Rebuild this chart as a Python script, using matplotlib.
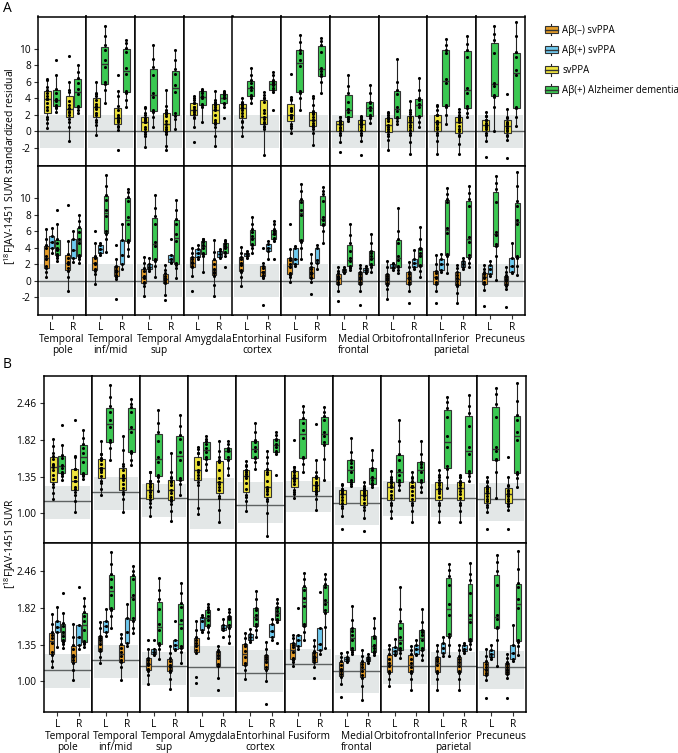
import numpy as np
import matplotlib
matplotlib.use('Agg')
import matplotlib.pyplot as plt
from matplotlib import cbook
from matplotlib.patches import Rectangle, Patch
from matplotlib.lines import Line2D
from matplotlib.legend_handler import HandlerBase

plt.rcParams['font.family'] = ['Open Sans', 'DejaVu Sans']
plt.rcParams['axes.unicode_minus'] = False
plt.rcParams['mathtext.fontset'] = 'custom'
plt.rcParams['mathtext.rm'] = 'Open Sans'

regions = ['Temporal\npole', 'Temporal\ninf/mid', 'Temporal\nsup', 'Amygdala',
           'Entorhinal\ncortex', 'Fusiform', 'Medial\nfrontal', 'Orbitofrontal',
           'Inferior\nparietal', 'Precuneus']
hemis = ['L', 'R']
legend_labels = ['Aβ(–) svPPA', 'Aβ(+) svPPA', 'svPPA', 'Aβ(+) Alzheimer dementia']

# ---- A: standardized residuals (one list per region) ----
resid_neg_L = [
    [0.4, 1.0, 1.5, 1.8, 2.6, 3.0, 3.9, 4.3, 5.0, 6.2],
    [-0.4, 0.8, 1.2, 1.4, 2.0, 2.2, 2.7, 3.0, 4.5, 6.0],
    [-1.9, -0.6, -0.3, -0.1, 0.3, 0.6, 1.2, 1.5, 2.2, 2.9],
    [-1.3, 0.6, 1.6, 1.8, 2.1, 2.3, 2.6, 2.9, 3.4, 4.0],
    [-0.6, 0.5, 1.1, 1.3, 1.9, 2.2, 2.6, 2.9, 3.4, 4.1],
    [-0.2, 0.4, 0.7, 0.9, 1.6, 2.0, 2.5, 2.8, 3.8, 6.9],
    [-2.5, -1.3, -0.4, -0.2, 0.2, 0.4, 0.6, 0.9, 1.2, 1.7],
    [-2.2, -1.0, -0.5, -0.3, 0.1, 0.3, 0.6, 0.8, 1.6, 2.4],
    [-2.7, -1.2, -0.4, -0.2, 0.3, 0.5, 0.9, 1.2, 2.0, 3.1],
    [-3.1, -1.1, -0.4, -0.2, 0.3, 0.5, 0.8, 1.0, 1.4, 1.9],
]
resid_neg_R = [
    [-1.2, 0.5, 1.2, 1.5, 2.0, 2.3, 2.7, 3.2, 4.8, 9.1],
    [-2.2, 0.2, 0.5, 0.7, 1.1, 1.3, 1.6, 1.8, 2.6, 4.3],
    [-2.3, -1.7, -0.3, -0.1, 0.1, 0.3, 0.6, 0.9, 1.3, 1.9],
    [-1.8, -0.5, 0.6, 0.9, 1.1, 1.4, 2.0, 2.6, 3.5, 4.9],
    [-2.9, 0.3, 0.5, 0.7, 1.0, 1.1, 1.5, 1.8, 2.2, 4.0],
    [-1.6, -0.2, 0.3, 0.5, 0.8, 1.0, 1.4, 1.7, 2.2, 3.2],
    [-2.9, -1.2, -0.4, -0.2, 0.2, 0.5, 0.8, 1.1, 1.5, 1.9],
    [-2.7, -1.3, -0.4, -0.2, 0.2, 0.5, 0.8, 1.1, 1.7, 2.3],
    [-2.7, -1.5, -0.6, -0.4, 0.0, 0.3, 0.7, 1.1, 1.5, 1.9],
    [-3.2, -1.0, -0.6, -0.4, 0.0, 0.2, 0.4, 0.7, 1.1, 1.6],
]
resid_pos_L = [
    [3.4, 3.9, 4.7, 5.4, 6.4], [3.1, 3.3, 3.8, 4.3, 4.6], [1.2, 1.4, 1.6, 2.0, 2.8],
    [2.6, 2.9, 3.4, 3.8, 4.3], [2.8, 3.0, 3.2, 3.4, 3.6], [1.8, 2.0, 2.6, 3.9, 4.2],
    [0.9, 1.1, 1.3, 1.4, 1.7], [1.3, 1.5, 1.7, 2.0, 2.2], [1.1, 1.3, 2.0, 2.6, 3.2],
    [0.6, 0.8, 1.4, 1.9, 2.4],
]
resid_pos_R = [
    [2.3, 2.8, 3.7, 5.0, 6.0], [1.4, 2.0, 3.1, 4.9, 6.8], [2.1, 2.3, 2.6, 3.1, 5.0],
    [2.7, 2.9, 3.2, 3.6, 3.8], [2.6, 3.6, 4.0, 4.4, 4.8], [1.4, 2.1, 2.5, 4.0, 4.3],
    [0.9, 1.0, 1.3, 1.5, 1.8], [1.4, 1.6, 2.1, 2.6, 3.7], [1.4, 1.6, 2.0, 2.4, 2.7],
    [0.9, 1.0, 1.8, 2.7, 4.5],
]
resid_ad_L = [
    [2.4, 2.8, 3.0, 3.2, 3.7, 3.9, 4.6, 5.1, 6.8, 8.6],
    [3.5, 5.0, 5.7, 6.0, 7.8, 8.6, 9.8, 10.4, 11.5, 12.8],
    [0.5, 1.8, 2.4, 2.6, 4.2, 4.7, 6.8, 7.8, 8.8, 10.4],
    [1.1, 3.0, 3.2, 3.3, 4.0, 4.3, 4.7, 4.9, 5.0, 5.1],
    [3.4, 4.0, 4.3, 4.4, 5.0, 5.4, 5.9, 6.2, 6.8, 7.7],
    [2.6, 4.0, 4.7, 4.9, 7.9, 8.6, 9.5, 9.9, 10.8, 11.7],
    [1.3, 1.5, 1.7, 1.8, 2.4, 2.7, 3.6, 4.6, 5.5, 6.8],
    [0.9, 1.3, 1.6, 1.8, 2.5, 3.0, 4.5, 5.0, 6.0, 8.8],
    [0.9, 2.0, 3.0, 3.2, 5.8, 6.4, 9.5, 9.9, 10.5, 11.2],
    [0.1, 3.0, 4.2, 4.4, 5.5, 5.9, 9.5, 11.1, 11.8, 12.7],
]
resid_ad_R = [
    [2.2, 2.6, 2.9, 3.1, 4.5, 5.1, 5.9, 6.5, 7.2, 8.0],
    [3.0, 3.8, 4.7, 4.9, 6.9, 7.7, 9.6, 10.1, 10.7, 11.1],
    [0.3, 1.5, 1.9, 2.2, 4.8, 5.6, 6.9, 7.5, 8.6, 9.8],
    [1.6, 3.0, 3.35, 3.5, 4.0, 4.2, 4.4, 4.6, 4.8, 4.9],
    [2.6, 4.8, 5.0, 5.2, 5.6, 5.8, 6.0, 6.2, 6.8, 7.2],
    [4.6, 6.0, 6.7, 6.9, 7.3, 7.7, 9.6, 10.5, 10.9, 11.3],
    [1.0, 1.6, 1.9, 2.0, 2.6, 3.0, 3.4, 3.6, 4.6, 5.6],
    [0.5, 1.2, 1.8, 1.9, 3.0, 3.3, 3.8, 4.0, 5.0, 6.5],
    [1.7, 2.2, 2.8, 3.1, 4.7, 5.3, 9.0, 9.9, 10.6, 11.5],
    [0.7, 1.8, 2.8, 3.0, 6.8, 7.4, 9.0, 9.6, 11.5, 13.2],
]

# ---- B: SUVR ----
suvr_neg_L = [
    [1.12, 1.18, 1.24, 1.27, 1.37, 1.42, 1.46, 1.49, 1.60, 1.73],
    [1.16, 1.22, 1.28, 1.30, 1.36, 1.40, 1.42, 1.45, 1.54, 1.62],
    [0.98, 1.05, 1.09, 1.11, 1.14, 1.16, 1.19, 1.21, 1.30, 1.40],
    [0.99, 1.04, 1.26, 1.29, 1.33, 1.37, 1.40, 1.43, 1.52, 1.64],
    [1.02, 1.10, 1.14, 1.16, 1.22, 1.28, 1.33, 1.36, 1.42, 1.48],
    [1.13, 1.17, 1.19, 1.21, 1.27, 1.32, 1.34, 1.37, 1.42, 1.46],
    [0.88, 0.98, 1.04, 1.06, 1.09, 1.11, 1.14, 1.18, 1.22, 1.26],
    [0.96, 1.02, 1.07, 1.09, 1.13, 1.16, 1.20, 1.25, 1.30, 1.35],
    [0.93, 1.02, 1.07, 1.09, 1.14, 1.18, 1.20, 1.22, 1.28, 1.34],
    [0.875, 1.01, 1.05, 1.07, 1.10, 1.12, 1.15, 1.18, 1.23, 1.30],
]
suvr_neg_R = [
    [1.01, 1.10, 1.16, 1.19, 1.22, 1.24, 1.30, 1.35, 1.44, 1.60],
    [1.01, 1.12, 1.17, 1.19, 1.23, 1.27, 1.31, 1.36, 1.42, 1.47],
    [0.94, 1.02, 1.08, 1.10, 1.12, 1.14, 1.18, 1.21, 1.26, 1.33],
    [0.93, 1.03, 1.13, 1.15, 1.21, 1.24, 1.27, 1.29, 1.33, 1.80],
    [0.83, 1.00, 1.10, 1.12, 1.17, 1.20, 1.22, 1.24, 1.30, 1.38],
    [1.03, 1.12, 1.17, 1.19, 1.21, 1.23, 1.26, 1.28, 1.33, 1.40],
    [0.86, 0.96, 1.03, 1.05, 1.09, 1.12, 1.15, 1.18, 1.23, 1.29],
    [0.93, 1.02, 1.07, 1.09, 1.12, 1.16, 1.20, 1.25, 1.29, 1.33],
    [0.93, 1.02, 1.07, 1.09, 1.13, 1.17, 1.20, 1.23, 1.29, 1.34],
    [0.875, 1.03, 1.06, 1.08, 1.10, 1.12, 1.15, 1.17, 1.21, 1.25],
]
suvr_pos_L = [
    [1.32, 1.50, 1.56, 1.64, 1.84], [1.45, 1.50, 1.57, 1.63, 1.80], [1.24, 1.25, 1.27, 1.30, 1.40],
    [1.50, 1.52, 1.64, 1.69, 1.72], [1.38, 1.40, 1.43, 1.47, 1.53], [1.30, 1.33, 1.40, 1.46, 1.82],
    [1.17, 1.18, 1.20, 1.22, 1.27], [1.24, 1.25, 1.28, 1.32, 1.41], [1.23, 1.26, 1.31, 1.37, 1.43],
    [1.20, 1.22, 1.25, 1.29, 1.34],
]
suvr_pos_R = [
    [1.30, 1.34, 1.44, 1.58, 2.15], [1.33, 1.37, 1.50, 1.68, 1.88], [1.29, 1.30, 1.34, 1.40, 1.64],
    [1.43, 1.52, 1.55, 1.58, 1.66], [1.40, 1.44, 1.51, 1.59, 1.66], [1.25, 1.29, 1.36, 1.54, 2.08],
    [1.16, 1.18, 1.20, 1.22, 1.25], [1.24, 1.25, 1.30, 1.35, 1.40], [1.26, 1.28, 1.30, 1.34, 1.37],
    [1.18, 1.20, 1.26, 1.34, 1.58],
]
suvr_ad_L = [
    [1.31, 1.36, 1.38, 1.40, 1.45, 1.49, 1.57, 1.61, 1.75, 2.06],
    [1.54, 1.70, 1.79, 1.82, 2.02, 2.15, 2.30, 2.40, 2.60, 2.86],
    [1.20, 1.30, 1.35, 1.37, 1.52, 1.59, 1.80, 1.95, 2.10, 2.33],
    [1.42, 1.50, 1.56, 1.58, 1.65, 1.70, 1.76, 1.80, 1.84, 1.88],
    [1.44, 1.52, 1.57, 1.59, 1.66, 1.72, 1.79, 1.82, 1.95, 2.09],
    [1.40, 1.50, 1.57, 1.59, 1.85, 1.97, 2.10, 2.18, 2.30, 2.41],
    [1.25, 1.27, 1.29, 1.31, 1.40, 1.46, 1.51, 1.55, 1.65, 1.85],
    [1.21, 1.26, 1.29, 1.31, 1.37, 1.43, 1.55, 1.63, 1.80, 2.15],
    [1.23, 1.35, 1.44, 1.47, 1.72, 1.88, 2.20, 2.37, 2.48, 2.60],
    [1.13, 1.40, 1.54, 1.56, 1.66, 1.72, 2.20, 2.45, 2.65, 2.80],
]
suvr_ad_R = [
    [1.32, 1.36, 1.37, 1.39, 1.52, 1.64, 1.70, 1.76, 1.85, 1.97],
    [1.48, 1.55, 1.64, 1.67, 1.95, 2.03, 2.30, 2.38, 2.45, 2.56],
    [1.16, 1.27, 1.31, 1.33, 1.55, 1.65, 1.83, 1.90, 2.05, 2.23],
    [1.37, 1.45, 1.55, 1.58, 1.66, 1.68, 1.69, 1.71, 1.76, 1.81],
    [1.37, 1.62, 1.65, 1.66, 1.72, 1.77, 1.82, 1.84, 1.90, 1.95],
    [1.31, 1.56, 1.75, 1.79, 1.88, 1.94, 2.15, 2.21, 2.30, 2.39],
    [1.24, 1.26, 1.27, 1.28, 1.31, 1.35, 1.42, 1.45, 1.55, 1.68],
    [1.19, 1.24, 1.29, 1.31, 1.40, 1.46, 1.50, 1.52, 1.62, 1.81],
    [1.30, 1.36, 1.39, 1.41, 1.62, 1.72, 2.05, 2.28, 2.40, 2.63],
    [1.24, 1.33, 1.38, 1.40, 1.82, 1.95, 2.15, 2.23, 2.50, 2.90],
]
# controls: mean line and shaded range per region
ctrl_mean = [1.10, 1.19, 1.13, 1.12, 1.07, 1.15, 1.09, 1.13, 1.13, 1.12]
ctrl_lo = [0.95, 1.03, 0.97, 0.88, 0.92, 1.01, 0.91, 0.98, 0.97, 0.94]
ctrl_hi = [1.25, 1.35, 1.27, 1.33, 1.29, 1.30, 1.24, 1.30, 1.27, 1.28]

c_neg, c_pos, c_sv, c_ad = '#E39B27', '#6EC9EF', '#EEE33C', '#3BC852'
band_col = '#E3E7E7'
line_col = '#5E6262'

W, H = 678, 753
fig = plt.figure(figsize=(W / 100, H / 100), dpi=100)


def add_ax(x, y, w, h):
    return fig.add_axes([x / W, 1 - (y + h) / H, w / W, h / H])


def draw_box(ax, vals, pos, width, color, log=False):
    v = np.asarray(vals, float)
    st = cbook.boxplot_stats(np.log(v) if log else v, whis=1.5)[0]
    if log:
        for k in ('whislo', 'q1', 'med', 'q3', 'whishi', 'mean'):
            st[k] = np.exp(st[k])
    st['fliers'] = []
    ax.bxp([st], positions=[pos], widths=width, patch_artist=True,
           showfliers=False, showcaps=False, manage_ticks=False,
           boxprops=dict(facecolor=color, edgecolor='#333333', linewidth=0.8),
           medianprops=dict(color='#333333', linewidth=1.0),
           whiskerprops=dict(color='#222222', linewidth=0.8), zorder=2)
    ax.scatter(np.full(len(v), pos), v, s=5, color='black', linewidths=0, zorder=3)


def draw_panel(x0, fw, rows, neg, pos, ad, log, ylim, yticks, yticklabels,
               mid, lo, hi):
    for r, (ry, rh) in enumerate(rows):
        for i, name in enumerate(regions):
            ax = add_ax(x0 + i * fw, ry, fw, rh)
            if log:
                ax.set_yscale('log')
            ax.set_xlim(0.35, 2.6)
            ax.set_ylim(*ylim)
            ax.axhspan(lo[i], hi[i], xmin=0.04, xmax=0.96, color=band_col, lw=0, zorder=0)
            ax.axhline(mid[i], color=line_col, lw=1.0, zorder=1)
            for h in range(2):
                x = h + 1
                if r == 0:
                    draw_box(ax, neg[h][i] + pos[h][i], x - 0.2, 0.32, c_sv, log)
                    draw_box(ax, ad[h][i], x + 0.2, 0.32, c_ad, log)
                else:
                    draw_box(ax, neg[h][i], x - 0.26, 0.22, c_neg, log)
                    draw_box(ax, pos[h][i], x, 0.22, c_pos, log)
                    draw_box(ax, ad[h][i], x + 0.26, 0.22, c_ad, log)
            for s in ax.spines.values():
                s.set_color('black')
                s.set_linewidth(1.1)
            ax.yaxis.set_minor_locator(plt.NullLocator())
            ax.tick_params(axis='both', length=3, width=0.8, color='#333333',
                           labelsize=7.3, pad=2)
            if r == 1:
                ax.set_xticks([1, 2], hemis)
                ax.set_xlabel(name, fontsize=7.3, labelpad=1, linespacing=1.0)
            else:
                ax.set_xticks([])
            if i == 0:
                ax.set_yticks(yticks, yticklabels)
            else:
                ax.set_yticks(yticks)
                ax.tick_params(axis='y', left=False, labelleft=False)


# panel A
draw_panel(37.7, 48.7, [(16.5, 149.3), (165.8, 149.2)],
           (resid_neg_L, resid_neg_R), (resid_pos_L, resid_pos_R), (resid_ad_L, resid_ad_R),
           False, (-4.15, 13.9), [-2, 0, 2, 4, 6, 8, 10], ['-2', '0', '2', '4', '6', '8', '10'],
           [0] * 10, [-2] * 10, [2] * 10)

# panel B
draw_panel(43.5, 48.2, [(376, 167.4), (543.4, 168.4)],
           (suvr_neg_L, suvr_neg_R), (suvr_pos_L, suvr_pos_R), (suvr_ad_L, suvr_ad_R),
           True, (0.78, 3.08), [1.0, 1.35, 1.82, 2.46], ['1.00', '1.35', '1.82', '2.46'],
           ctrl_mean, ctrl_lo, ctrl_hi)

fig.text(10 / W, 1 - 165.8 / H, r'[$\mathregular{^{18}}$F]AV-1451 SUVR standardized residual',
         rotation=90, ha='center', va='center', fontsize=7.5)
fig.text(10 / W, 1 - 543.4 / H, r'[$\mathregular{^{18}}$F]AV-1451 SUVR',
         rotation=90, ha='center', va='center', fontsize=7.5)
fig.text(3 / W, 1 - 8 / H, 'A', fontsize=10, ha='left', va='center')
fig.text(3 / W, 1 - 364 / H, 'B', fontsize=10, ha='left', va='center')


class BoxKey(HandlerBase):
    def create_artists(self, legend, orig_handle, xdescent, ydescent, width, height,
                       fontsize, trans):
        fc = orig_handle.get_facecolor()
        x0, y0 = -xdescent, -ydescent
        wl = Line2D([x0 + width / 2] * 2, [y0 - 0.3 * height, y0 + 1.3 * height],
                    color='#222222', lw=0.8, transform=trans)
        rect = Rectangle((x0, y0), width, height, facecolor=fc, edgecolor='#333333',
                         lw=0.8, transform=trans)
        med = Line2D([x0, x0 + width], [y0 + height / 2] * 2, color='#333333', lw=1.0,
                     transform=trans)
        return [wl, rect, med]


handles = [Patch(facecolor=c) for c in (c_neg, c_pos, c_sv, c_ad)]
fig.legend(handles, legend_labels, handler_map={Patch: BoxKey()}, loc='upper left',
           bbox_to_anchor=(541 / W, 1 - 21 / H), frameon=False, fontsize=6.9,
           handlelength=1.35, handleheight=0.8, labelspacing=0.95, handletextpad=0.45,
           borderaxespad=0)

fig.savefig('out.png', dpi=100)
